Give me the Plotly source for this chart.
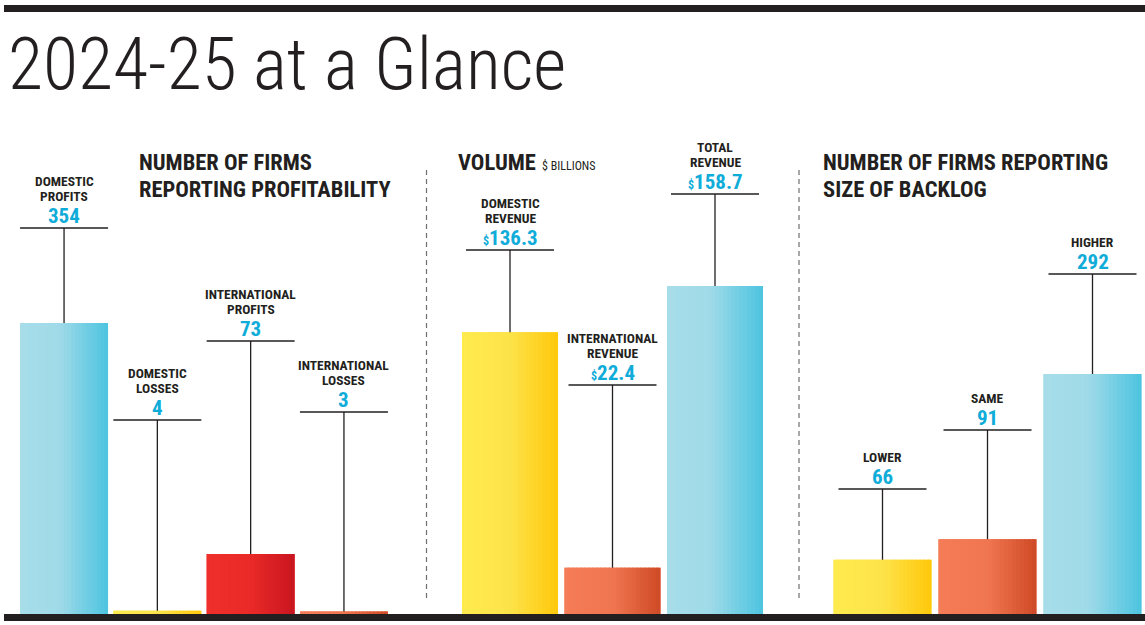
import plotly.graph_objects as go

# ---------------- data ----------------
prof_cats = ["DOMESTIC PROFITS", "DOMESTIC LOSSES", "INTERNATIONAL PROFITS", "INTERNATIONAL LOSSES"]
prof_vals = [354, 4, 73, 3]

vol_cats = ["DOMESTIC REVENUE", "INTERNATIONAL REVENUE", "TOTAL REVENUE"]
vol_vals = [136.3, 22.4, 158.7]

backlog_cats = ["LOWER", "SAME", "HIGHER"]
backlog_vals = [66, 91, 292]

title_text = "2024-25 at a Glance"
heading_prof = ["NUMBER OF FIRMS", "REPORTING PROFITABILITY"]
heading_vol = "VOLUME"
heading_vol_unit = "$ BILLIONS"
heading_backlog = ["NUMBER OF FIRMS REPORTING", "SIZE OF BACKLOG"]

# ---------------- style ----------------
W, H = 1145, 625
BASE_PX = 614          # pixel row of the bar baseline
COND = "Roboto Condensed, Liberation Sans Narrow, DejaVu Sans Condensed, Arial Narrow, Roboto, sans-serif"
DARK = "#231f20"
CYAN = "#10acd9"

GRAD = {
    "blue":   [(0, "#a7dde9"), (0.45, "#a0dae8"), (1, "#4cc4e0")],
    "yellow": [(0, "#ffeb4e"), (0.5, "#fde34a"), (1, "#ffc80b")],
    "red":    [(0, "#ef2f2a"), (0.5, "#e92a28"), (1, "#c9151f")],
    "orange": [(0, "#f47c57"), (0.5, "#f07651"), (1, "#cf4a26")],
}


def hex2rgb(h):
    h = h.lstrip("#")
    return [int(h[i:i + 2], 16) for i in (0, 2, 4)]


def interp(stops, t):
    for (p0, c0), (p1, c1) in zip(stops[:-1], stops[1:]):
        if p0 <= t <= p1:
            f = (t - p0) / (p1 - p0) if p1 > p0 else 0
            a, b = hex2rgb(c0), hex2rgb(c1)
            return "rgb({},{},{})".format(*[round(x + (y - x) * f) for x, y in zip(a, b)])
    return stops[-1][1]


panels = [
    dict(cats=prof_cats, vals=prof_vals, fmt=lambda v: f"{v:g}", dollar=False,
         xdom=(17.4, 390.6), ytop=747, bw=0.943,
         colors=["blue", "yellow", "red", "orange"], callout_px=[228, 420, 341, 412]),
    dict(cats=vol_cats, vals=vol_vals, fmt=lambda v: f"{v:.1f}", dollar=True,
         xdom=(458.75, 766.25), ytop=297, bw=0.937,
         colors=["yellow", "orange", "blue"], callout_px=[250, 385, 194]),
    dict(cats=backlog_cats, vals=backlog_vals, fmt=lambda v: f"{v:g}", dollar=False,
         xdom=(830.0, 1145.0), ytop=747, bw=0.933,
         colors=["yellow", "orange", "blue"], callout_px=[489, 430, 274]),
]

NSLICE = 24
fig = go.Figure()
shapes = []
annotations = []
layout_axes = {}


def py(px):  # pixel row -> paper y
    return 1 - px / H


for k, p in enumerate(panels):
    sfx = "" if k == 0 else str(k + 1)
    xa, ya = "x" + sfx, "y" + sfx
    n = len(p["cats"])
    x = list(range(n))
    bw = p["bw"]
    # base bar (mid colour)
    fig.add_trace(go.Bar(x=x, y=p["vals"], width=bw, offset=-bw / 2,
                         marker=dict(color=[interp(GRAD[c], 0.5) for c in p["colors"]], line=dict(width=0)),
                         xaxis=xa, yaxis=ya, hoverinfo="skip", showlegend=False))
    # horizontal gradient slices
    step = bw / NSLICE
    for i in range(NSLICE):
        off = -bw / 2 + i * step
        wdt = min(step * 1.35, bw / 2 - off)
        fig.add_trace(go.Bar(x=x, y=p["vals"], width=wdt, offset=off,
                             marker=dict(color=[interp(GRAD[c], (i + 0.5) / NSLICE) for c in p["colors"]],
                                         line=dict(width=0)),
                             xaxis=xa, yaxis=ya, hoverinfo="skip", showlegend=False))
    x0, x1 = p["xdom"]
    layout_axes["xaxis" + sfx] = dict(domain=[x0 / W, x1 / W], range=[-0.5, n - 0.5], visible=False,
                                      fixedrange=True, anchor=ya)
    layout_axes["yaxis" + sfx] = dict(domain=[(H - BASE_PX) / H, 1], range=[0, p["ytop"]], visible=False,
                                      fixedrange=True, anchor=xa)
    unit_px = (x1 - x0) / n            # pixels per category unit
    ppu = BASE_PX / p["ytop"]          # pixels per value unit
    half = 44 / unit_px
    for i, (cat, v) in enumerate(zip(p["cats"], p["vals"])):
        lvl = (BASE_PX - p["callout_px"][i]) / ppu
        shapes.append(dict(type="line", xref=xa, yref=ya, x0=i - half, x1=i + half, y0=lvl, y1=lvl,
                           line=dict(color=DARK, width=1.3)))
        shapes.append(dict(type="line", xref=xa, yref=ya, x0=i, x1=i, y0=v, y1=lvl,
                           line=dict(color=DARK, width=1.3)))
        val = p["fmt"](v)
        if p["dollar"]:
            val = "<span style='font-size:12px'>$</span>" + val
        annotations.append(dict(xref=xa, yref=ya, x=i, y=lvl, yshift=12.5, text=val, showarrow=False,
                                xanchor="center", yanchor="middle",
                                font=dict(family=COND, size=21, color=CYAN, weight=700)))
        words = cat.split(" ")
        lines = [words[0], " ".join(words[1:])] if len(words) > 1 else [words[0]]
        shifts = [47.5, 32] if len(lines) == 2 else [32]
        for ln, sh in zip(lines, shifts):
            annotations.append(dict(xref=xa, yref=ya, x=i, y=lvl, yshift=sh, text=ln, showarrow=False,
                                    xanchor="center", yanchor="middle",
                                    font=dict(family=COND, size=13.5, color=DARK, weight=700)))

# title
annotations.append(dict(xref="paper", yref="paper", x=6 / W, y=py(65), text=title_text, showarrow=False,
                        xanchor="left", yanchor="middle",
                        font=dict(family=COND, size=72, color=DARK, weight=300)))
# headings
HFONT = dict(family=COND, size=22.5, color=DARK, weight=700)
for txt, xpx, ypx in [(heading_prof[0], 137, 162), (heading_prof[1], 137, 189),
                      (heading_vol, 456, 162),
                      (heading_backlog[0], 821, 162), (heading_backlog[1], 821, 189)]:
    annotations.append(dict(xref="paper", yref="paper", x=xpx / W, y=py(ypx), text=txt, showarrow=False,
                            xanchor="left", yanchor="middle", font=HFONT))
annotations.append(dict(xref="paper", yref="paper", x=540 / W, y=py(166.5), text=heading_vol_unit,
                        showarrow=False, xanchor="left", yanchor="middle",
                        font=dict(family=COND, size=12, color=DARK)))

# rules
shapes.append(dict(type="rect", xref="paper", yref="paper", x0=4 / W, x1=1, y0=py(12), y1=py(5),
                   fillcolor=DARK, line=dict(width=0)))
shapes.append(dict(type="rect", xref="paper", yref="paper", x0=4 / W, x1=1, y0=py(621), y1=py(614),
                   fillcolor=DARK, line=dict(width=0)))
for xpx in (426.5, 799):
    shapes.append(dict(type="line", xref="paper", yref="paper", x0=xpx / W, x1=xpx / W, y0=py(598), y1=py(166),
                       line=dict(color="#6d6e71", width=1.2, dash="5px,4px")))

fig.update_layout(width=W, height=H, margin=dict(l=0, r=0, t=0, b=0),
                  paper_bgcolor="white", plot_bgcolor="white", barmode="overlay",
                  shapes=shapes, annotations=annotations, **layout_axes)
fig.write_html("out.html", config={"displayModeBar": False})
